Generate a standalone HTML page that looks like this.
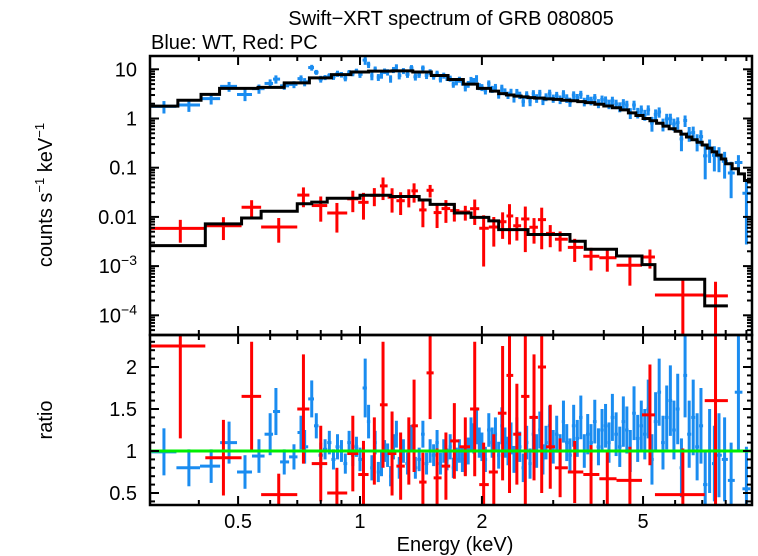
<!DOCTYPE html>
<html><head><meta charset="utf-8"><style>
body{margin:0;background:#fff}
svg{display:block;font-family:"Liberation Sans",sans-serif}
</style></head><body>
<svg id="c" width="758" height="556" viewBox="0 0 758 556">
<text x="451" y="25" font-size="20" text-anchor="middle">Swift−XRT spectrum of GRB 080805</text>
<text x="151" y="49" font-size="20">Blue: WT, Red: PC</text>
<text transform="translate(52,195) rotate(-90)" font-size="20" text-anchor="middle">counts s<tspan font-size="13" dy="-8">−1</tspan><tspan dy="8"> keV</tspan><tspan font-size="13" dy="-8">−1</tspan></text>
<text transform="translate(52,420) rotate(-90)" font-size="20" text-anchor="middle">ratio</text>
<text x="455" y="551" font-size="20" text-anchor="middle">Energy (keV)</text>
<g id="plot"></g>
</svg>
<script>
// ---- data ----
const xTicks=[0.5,1,2,5];
const xTickLabels=["0.5","1","2","5"];
const yTopTicks=[10,1,0.1,0.01,0.001,0.0001];
const yTopLabels=["10","1","0.1","0.01","10^−3","10^−4"];
const yBotTicks=[2,1.5,1,0.5];
const yBotLabels=["2","1.5","1","0.5"];
// WT model steps: bin edges and values (counts/s/keV)
const wtEdges=[0.30,0.355,0.405,0.45,0.56,0.65,0.75,0.85,0.95,1.05,1.2,1.35,1.5,1.65,1.8,1.95,2.1,
2.2,2.3,2.4,2.5,2.6,2.7,2.85,3.0,3.15,3.3,3.45,3.6,3.8,4.0,4.2,4.4,4.6,4.8,5.0,
5.2,5.4,5.6,5.8,6.0,6.2,6.4,6.6,6.8,7.0,7.2,7.4,7.6,7.8,8.0,8.3,8.6,8.9,9.3];
const wtModel=[1.78,2.35,3.1,4.1,4.3,5.3,6.7,7.8,8.8,9.2,9.3,8.8,7.5,6.2,5.0,4.1,
3.6,3.2,3.0,2.85,2.75,2.65,2.6,2.5,2.45,2.35,2.3,2.2,2.1,1.95,1.8,1.65,1.5,1.3,1.15,1.0,
0.9,0.8,0.7,0.62,0.55,0.48,0.42,0.37,0.33,0.29,0.25,0.21,0.18,0.15,0.12,0.095,0.075,0.055];
const pcEdges=[0.30,0.415,0.51,0.57,0.70,0.76,0.83,1.0,1.19,1.4,1.49,1.71,1.88,2.08,2.2,2.6,3.3,3.6,4.3,4.97,5.35,7.1,8.1];
const pcModel=[0.0026,0.0072,0.0095,0.013,0.0185,0.020,0.024,0.0275,0.026,0.022,0.018,0.012,0.0098,0.0083,0.0055,0.0044,0.0032,0.0022,0.0016,0.00107,0.00054,0.000155];
// WT data: energies, ratios, ratio errors
const wtE=[0.328,0.378,0.429,0.475,0.52,0.563,0.60,0.62,0.65,0.687,0.715,0.73,0.76,0.78,
0.80,0.82,0.84,0.86,0.88,0.90,0.92,0.94,0.96,0.98,1.00,
1.03,1.05,1.07,1.09,1.11,1.13,1.15,1.17,1.19,1.21,1.23,1.25,
1.28,1.31,1.34,1.37,1.40,1.43,1.46,1.49,
1.52,1.55,1.58,1.61,1.64,1.67,1.70,1.73,1.76,
1.79,1.82,1.85,1.88,1.91,1.94,1.97,2.00,
2.04,2.08,2.12,2.16,2.20,2.24,2.28,2.32,2.36,2.40,2.44,2.48,
2.53,2.58,2.63,2.68,2.73,2.78,2.83,2.88,2.94,3.00,
3.06,3.12,3.18,3.24,3.30,3.37,3.44,3.51,3.58,3.65,3.72,3.80,3.88,3.96,
4.04,4.12,4.20,4.29,4.38,4.47,4.56,4.65,4.75,4.85,4.95,
5.05,5.15,5.26,5.37,5.48,5.60,5.72,5.84,5.96,
6.09,6.22,6.35,6.50,6.65,6.80,6.95,
7.12,7.30,7.50,7.70,7.95,8.25,8.6,9.0];
const wtRatio=[0.99,0.80,0.82,1.1,0.75,0.94,1.2,1.47,0.87,0.93,1.22,1.05,1.62,1.3,
0.95,1.02,1.1,0.9,1.05,1.0,0.85,1.1,0.95,1.05,0.9,
1.75,1.35,0.8,1.1,0.75,0.85,1.0,0.95,0.7,1.05,1.2,0.8,
1.0,0.85,1.15,0.8,0.9,1.2,0.85,1.0,
0.95,1.1,0.85,1.0,0.9,1.05,0.8,0.9,1.0,
0.9,0.85,1.0,1.2,1.15,1.3,1.1,1.05,
0.9,1.25,1.1,1.2,0.95,1.3,1.1,1.0,1.15,0.9,1.2,1.05,
0.8,1.1,0.85,1.2,1.0,1.25,0.9,1.1,1.3,1.05,
1.2,1.0,1.35,1.1,0.95,1.3,1.15,1.4,1.0,1.2,1.1,1.35,1.05,1.25,
1.3,1.1,1.4,1.2,1.05,1.35,1.25,1.0,1.45,1.15,1.3,
1.2,1.5,0.9,1.35,1.7,1.1,1.4,1.6,1.25,
1.5,0.8,1.9,1.2,1.4,1.05,1.3,
0.6,1.0,0.85,0.95,0.9,0.65,1.7,0.55];
const wtErr=[0.28,0.22,0.2,0.25,0.2,0.2,0.25,0.28,0.15,0.15,0.2,0.2,0.22,0.15,
0.15,0.12,0.14,0.12,0.15,0.13,0.12,0.14,0.13,0.12,0.14,
0.35,0.2,0.15,0.14,0.12,0.15,0.13,0.14,0.12,0.15,0.16,0.13,
0.14,0.13,0.16,0.13,0.14,0.16,0.13,0.14,
0.13,0.15,0.13,0.14,0.13,0.15,0.12,0.14,0.14,
0.15,0.14,0.16,0.2,0.18,0.22,0.18,0.17,
0.15,0.2,0.18,0.2,0.16,0.22,0.18,0.17,0.19,0.16,0.2,0.18,
0.17,0.2,0.18,0.22,0.2,0.22,0.18,0.2,0.24,0.2,
0.22,0.2,0.25,0.22,0.2,0.25,0.22,0.26,0.2,0.24,0.22,0.26,0.22,0.25,
0.26,0.24,0.28,0.26,0.24,0.3,0.28,0.25,0.32,0.28,0.3,
0.3,0.35,0.3,0.35,0.4,0.32,0.38,0.42,0.35,
0.42,0.35,0.5,0.4,0.45,0.4,0.45,
0.4,0.5,0.45,0.5,0.5,0.45,0.7,0.5];
// PC data
const pcE=[0.36,0.46,0.54,0.63,0.725,0.80,0.877,0.96,1.02,1.085,1.14,1.2,1.26,1.32,1.36,1.43,1.49,1.55,1.63,1.71,1.82,1.92,2.02,2.14,2.25,2.34,2.44,2.56,2.69,2.81,2.95,3.12,3.39,3.72,4.08,4.64,5.2,6.27,7.55];
const pcLo=[0.30,0.415,0.51,0.57,0.70,0.76,0.83,0.93,0.99,1.06,1.12,1.17,1.23,1.29,1.34,1.40,1.46,1.52,1.59,1.67,1.76,1.87,1.97,2.08,2.19,2.30,2.39,2.50,2.62,2.75,2.88,3.03,3.26,3.56,3.90,4.30,4.97,5.35,7.1];
const pcHi=[0.415,0.51,0.57,0.70,0.75,0.83,0.93,0.99,1.05,1.12,1.17,1.23,1.29,1.34,1.39,1.46,1.52,1.59,1.67,1.76,1.87,1.97,2.08,2.19,2.30,2.39,2.50,2.62,2.75,2.88,3.03,3.26,3.56,3.90,4.30,4.97,5.35,7.1,8.1];
const pcRatio=[2.25,0.92,1.65,0.48,1.5,0.85,0.5,0.97,0.72,1.0,1.55,0.97,0.82,1.0,1.3,0.63,1.93,0.68,0.82,1.12,1.05,1.5,0.6,0.75,1.45,1.9,1.2,1.65,1.4,2.0,1.05,0.8,0.75,0.72,0.67,0.65,1.43,0.48,1.6];
const pcErr=[1.1,0.45,0.65,0.25,0.65,0.45,0.3,0.45,0.4,0.4,0.75,0.5,0.4,0.4,0.55,0.35,0.55,0.35,0.4,0.45,0.35,0.8,0.5,0.45,0.8,1.4,0.6,1.3,0.75,1.5,0.5,0.35,0.37,0.35,0.32,0.4,0.6,0.55,1.5];

// ---- axes ----
const L=150,R=752,T=56,M=335,B=505;
const xMin=0.303,xMax=9.29;
const x=e=>L+(Math.log10(e)-Math.log10(xMin))/(Math.log10(xMax)-Math.log10(xMin))*(R-L);
const yT=v=>69.3-(Math.log10(v)-1)*49.2;
const yB=r=>451-(r-1)*84;
const NS="http://www.w3.org/2000/svg";
const g=document.getElementById('plot');
function el(tag,attrs,parent){const e=document.createElementNS(NS,tag);for(const k in attrs)e.setAttribute(k,attrs[k]);(parent||g).appendChild(e);return e;}
function line(x1,y1,x2,y2,c,w,parent){return el('line',{x1,y1,x2,y2,stroke:c,'stroke-width':w},parent);}
const clip=el('clipPath',{id:'ct'});el('rect',{x:L,y:T,width:R-L,height:M-T},clip);
const clip2=el('clipPath',{id:'cb'});el('rect',{x:L,y:M,width:R-L,height:B-M},clip2);
function modelAt(edges,vals,e){for(let i=0;i<vals.length;i++){if(e<edges[i+1])return vals[i];}return vals[vals.length-1];}

// WT data
const gWT=el('g',{'clip-path':'url(#ct)'});


const gWTr=el('g',{'clip-path':'url(#cb)'});


const blue='#1a8cf0';
for(let i=0;i<wtE.length;i++){
  const e=wtE[i];
  const lo=i>0?Math.sqrt(wtE[i-1]*e):e*e/Math.sqrt(e*wtE[i+1]);
  const hi=i<wtE.length-1?Math.sqrt(wtE[i+1]*e):e*e/lo;
  const m=modelAt(wtEdges,wtModel,e);
  const v=m*wtRatio[i],er=m*wtErr[i];
  const w=3;
  line(x(lo),yT(v),x(hi),yT(v),blue,w,gWT);
  line(x(e),yT(v+er),x(e),yT(Math.max(v-er,1e-6)),blue,w,gWT);
  line(x(lo),yB(wtRatio[i]),x(hi),yB(wtRatio[i]),blue,w,gWTr);
  line(x(e),yB(wtRatio[i]+wtErr[i]),x(e),yB(wtRatio[i]-wtErr[i]),blue,w,gWTr);
}
// PC data
const gPC=el('g',{'clip-path':'url(#ct)'});


const gPCr=el('g',{'clip-path':'url(#cb)'});


for(let i=0;i<pcE.length;i++){
  const e=pcE[i],m=modelAt(pcEdges,pcModel,e);
  const v=m*pcRatio[i],er=m*pcErr[i];
  line(x(pcLo[i]),yT(v),x(pcHi[i]),yT(v),'#ff0000',3,gPC);
  line(x(e),yT(v+er),x(e),yT(Math.max(v-er,1e-7)),'#ff0000',3,gPC);
  line(x(pcLo[i]),yB(pcRatio[i]),x(pcHi[i]),yB(pcRatio[i]),'#ff0000',3,gPCr);
  line(x(e),yB(pcRatio[i]+pcErr[i]),x(e),yB(Math.max(pcRatio[i]-pcErr[i],0)),'#ff0000',3,gPCr);
}
// models
function stepPath(edges,vals){let d='M'+x(edges[0])+','+yT(vals[0]);for(let i=0;i<vals.length;i++){d+=' L'+x(edges[i+1])+','+yT(vals[i]);if(i<vals.length-1)d+=' L'+x(edges[i+1])+','+yT(vals[i+1]);}return d;}
const mw=el('path',{d:stepPath(wtEdges,wtModel),fill:'none',stroke:'#000','stroke-width':3,'clip-path':'url(#ct)'});


const mp=el('path',{d:stepPath(pcEdges,pcModel),fill:'none',stroke:'#000','stroke-width':3,'clip-path':'url(#ct)'});


const gl=line(L,yB(1),R,yB(1),'#00ee00',3);



// frames
const f1=el('rect',{x:L,y:T,width:R-L,height:M-T,fill:'none',stroke:'#000','stroke-width':2.5});


const f2=el('rect',{x:L,y:M,width:R-L,height:B-M,fill:'none',stroke:'#000','stroke-width':2.5});


// x ticks
const minor=[0.4,0.6,0.7,0.8,0.9,3,4,6,7,8,9];
for(const e of xTicks.concat(minor)){
  const big=xTicks.includes(e),len=big?9:5,px=x(e);
  line(px,T,px,T+len,'#000',2);line(px,M,px,M-len,'#000',2);
  line(px,M,px,M+len,'#000',2);line(px,B,px,B-len,'#000',2);
}
xTicks.forEach((e,i)=>{const t=el('text',{x:x(e),y:528,'font-size':20,'text-anchor':'middle'});t.textContent=xTickLabels[i];

});
// top y ticks
for(let d=-5;d<=1;d++){for(let k=1;k<10;k++){const v=k*Math.pow(10,d);const py=yT(v);if(py<T||py>M)continue;const len=k==1?9:5;line(L,py,L+len,py,'#000',2);line(R,py,R-len,py,'#000',2);}}
yTopTicks.forEach((v,i)=>{const lab=yTopLabels[i];const t=el('text',{x:137,y:yT(v)+7,'font-size':20,'text-anchor':'end'});


if(lab.includes('^')){const [a,b]=lab.split('^');t.textContent=a;const s=el('tspan',{'font-size':14,dy:-8},t);s.textContent=b;}else t.textContent=lab;});
// bottom y ticks
for(let r=0.4;r<=2.35;r+=0.1){const py=yB(r);if(py<M||py>B)continue;const big=Math.abs(r*2-Math.round(r*2))<0.01;const len=big?9:5;line(L,py,L+len,py,'#000',2);line(R,py,R-len,py,'#000',2);}
yBotTicks.forEach((r,i)=>{const t=el('text',{x:137,y:yB(r)+7,'font-size':20,'text-anchor':'end'});t.textContent=yBotLabels[i];

});
</script>
</body></html>
